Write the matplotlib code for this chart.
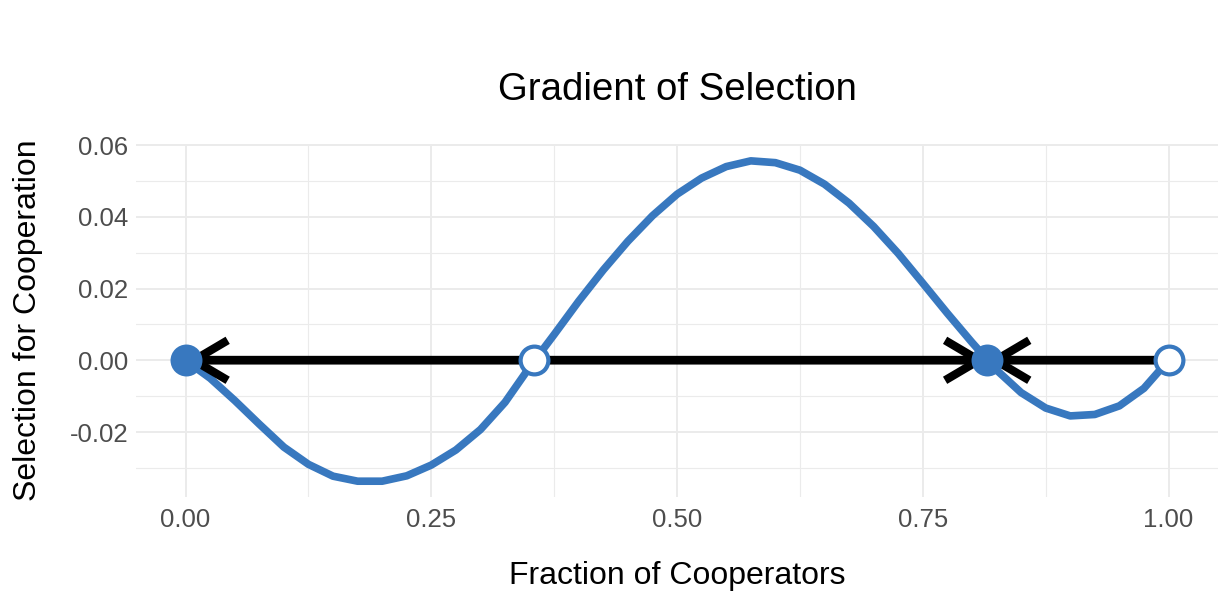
import matplotlib
matplotlib.use('Agg')
import matplotlib.pyplot as plt
from matplotlib.patches import FancyArrowPatch

plt.rcParams['font.family'] = ['Liberation Sans', 'DejaVu Sans']

# Gradient of selection
frac_coop = [0.000, 0.025, 0.050, 0.075, 0.100, 0.125, 0.150, 0.175, 0.200, 0.225,
             0.250, 0.275, 0.300, 0.325, 0.350, 0.375, 0.400, 0.425, 0.450, 0.475,
             0.500, 0.525, 0.550, 0.575, 0.600, 0.625, 0.650, 0.675, 0.700, 0.725,
             0.750, 0.775, 0.800, 0.825, 0.850, 0.875, 0.900, 0.925, 0.950, 0.975,
             1.000]
selection = [0.0000, -0.0050, -0.0112, -0.0178, -0.0242, -0.0290, -0.0323, -0.0337, -0.0337, -0.0322,
             -0.0292, -0.0250, -0.0193, -0.0117, -0.0019, 0.0072, 0.0165, 0.0252, 0.0332, 0.0403,
             0.0463, 0.0508, 0.0540, 0.0556, 0.0551, 0.0530, 0.0491, 0.0438, 0.0373, 0.0298,
             0.0215, 0.0131, 0.0050, -0.0027, -0.0090, -0.0133, -0.0155, -0.0151, -0.0127, -0.0078,
             0.0000]

# fixed points
stable_x = [0.0, 0.8155]
unstable_x = [0.3547, 1.0]

# direction of selection along the axis (from, to)
arrow_from = [0.3547, 0.3547, 1.0]
arrow_to = [0.0, 0.8155, 0.8155]

x_ticks = [0.0, 0.25, 0.5, 0.75, 1.0]
x_tick_labels = ['0.00', '0.25', '0.50', '0.75', '1.00']
x_minor = [0.125, 0.375, 0.625, 0.875]
y_ticks = [-0.02, 0.0, 0.02, 0.04, 0.06]
y_tick_labels = ['-0.02', '0.00', '0.02', '0.04', '0.06']
y_minor = [-0.03, -0.01, 0.01, 0.03, 0.05]

blue = '#3878BF'
grid_col = '#EBEBEB'

fig = plt.figure(figsize=(12.28, 6), dpi=100, facecolor='white')
ax = fig.add_axes([0.1111, 0.1717, 0.8805, 0.5883])

ax.set_xlim(-0.05, 1.05)
ax.set_ylim(-0.0381, 0.0603)

# grid like theme_minimal
ax.set_xticks(x_ticks)
ax.set_xticklabels(x_tick_labels)
ax.set_xticks(x_minor, minor=True)
ax.set_yticks(y_ticks)
ax.set_yticklabels(y_tick_labels)
ax.set_yticks(y_minor, minor=True)
ax.grid(True, which='major', color=grid_col, linewidth=1.4)
ax.grid(True, which='minor', color=grid_col, linewidth=0.8)
ax.set_axisbelow(True)
for s in ax.spines.values():
    s.set_visible(False)
ax.tick_params(which='both', length=0)
ax.tick_params(axis='x', labelsize=18.5, labelcolor='#4D4D4D', pad=8)
ax.tick_params(axis='y', labelsize=18.5, labelcolor='#4D4D4D', pad=6)

# curve
ax.plot(frac_coop, selection, color=blue, linewidth=5.5, solid_capstyle='round',
        solid_joinstyle='round', zorder=3)

# axis line with arrows
ax.plot([0.0, 1.0], [0.0, 0.0], color='black', linewidth=6, solid_capstyle='butt', zorder=4)
for a, b in zip(arrow_from, arrow_to):
    arr = FancyArrowPatch((a, 0.0), (b, 0.0), arrowstyle='->,head_length=1.22,head_width=0.72',
                          mutation_scale=20, color='black', linewidth=6, shrinkA=0, shrinkB=0,
                          capstyle='butt', zorder=4)
    ax.add_patch(arr)

# fixed points
ax.plot(stable_x, [0.0] * len(stable_x), 'o', markersize=23, color=blue,
        markeredgewidth=0, zorder=5)
ax.plot(unstable_x, [0.0] * len(unstable_x), 'o', markersize=20, markerfacecolor='white',
        markeredgecolor=blue, markeredgewidth=3, zorder=5)

fig.text(0.5513, 1 - 100 / 600, 'Gradient of Selection', fontsize=27.6, ha='center',
         va='baseline', color='black')
fig.text(0.5513, 1 - 584 / 600, 'Fraction of Cooperators', fontsize=23, ha='center',
         va='baseline', color='black')
fig.text(28 / 1228, 1 - 320 / 600, 'Selection for Cooperation', fontsize=23, ha='center',
         va='center', rotation=90, color='black')

fig.savefig('out.png', dpi=100, facecolor='white')
